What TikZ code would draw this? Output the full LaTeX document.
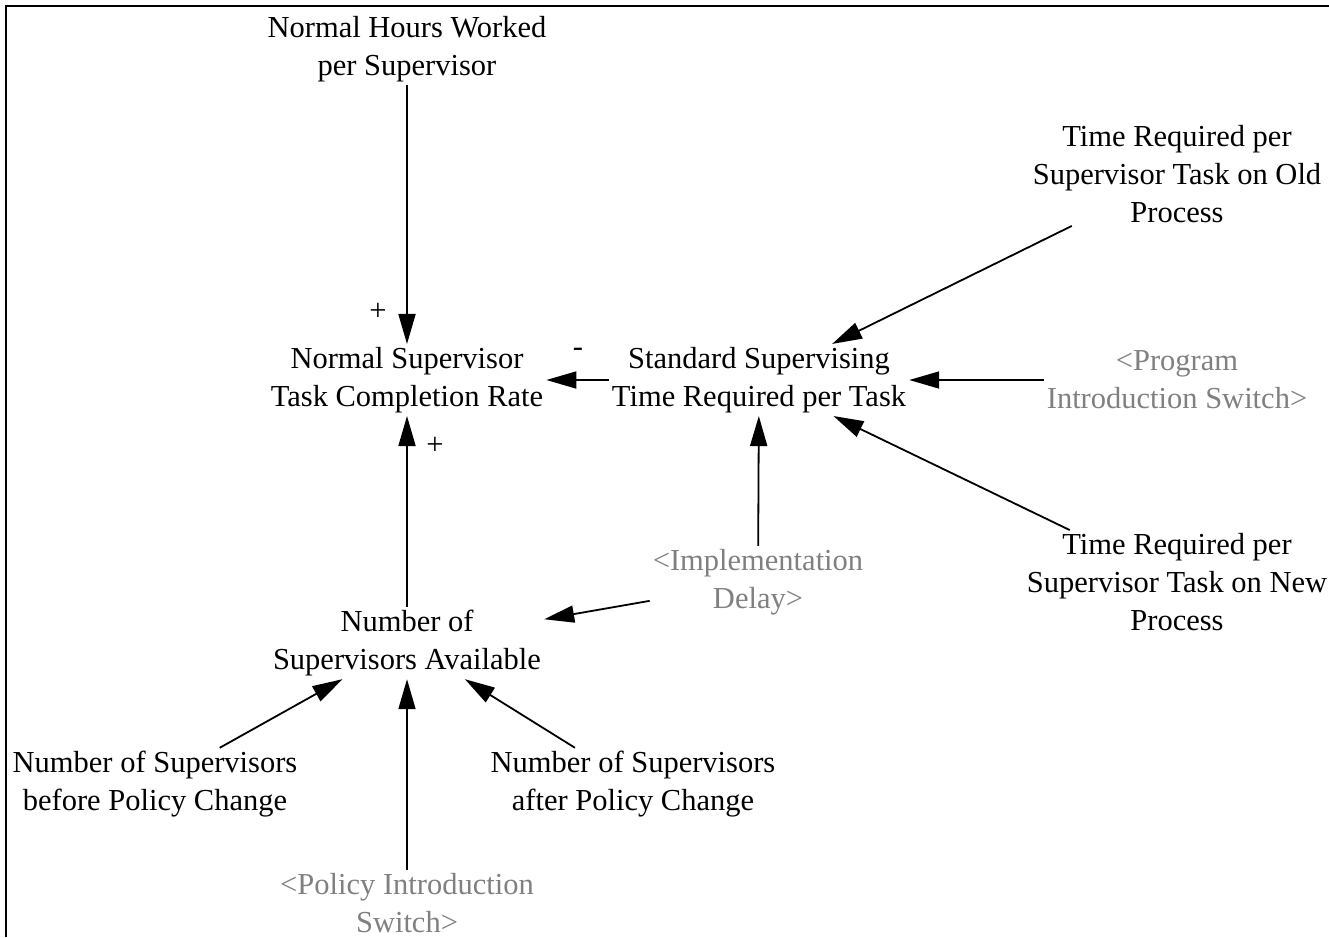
\documentclass[tikz,border=0pt]{standalone}
\usepackage{fontspec}
\setmainfont{Liberation Serif}
\usepackage{tikz}
\usetikzlibrary{positioning}
\usetikzlibrary{arrows.meta}

\tikzset{
  var/.style={align=center, inner sep=3pt},
  shadowvar/.style={var, text=black!50},
  link/.style={line width=1.8pt, -{Triangle[length=30pt,width=17pt]}},
  sign/.style={inner sep=0pt}
}

\begin{document}
\begin{tikzpicture}[x=1pt, y=-1pt, font=\fontsize{30.5}{38}\selectfont]
  \useasboundingbox (0,0) rectangle (1329,937);
  % Frame
  \draw [line width=2.8pt] (6,937) -- (6,6) -- (1329,6);

  % Nodes
  \node [var] (hours) at (407,49) {Normal Hours Worked\\per Supervisor};
  \node [var] (rate) at (407,380) {Normal Supervisor\\Task Completion Rate};
  \node [var] (stdtime) at (759,380) {Standard Supervising\\Time Required per Task};
  \node [var] (oldtime) at (1177,174) {Time Required per\\Supervisor Task on Old\\Process};
  \node [shadowvar] (progswitch) at (1177,380) {<Program\\Introduction Switch>};
  \node [var] (newtime) at (1177,582) {Time Required per\\Supervisor Task on New\\Process};
  \node [shadowvar] (delay) at (758,582) {<Implementation\\Delay>};
  \node [var] (available) at (407,643) {Number of\\Supervisors Available};
  \node [var] (before) at (155,784) {Number of Supervisors\\before Policy Change};
  \node [var] (after) at (633,784) {Number of Supervisors\\after Policy Change};
  \node [shadowvar] (polswitch) at (407,903) {<Policy Introduction\\Switch>};

  % Arrows
  \foreach \src/\dst in {hours/rate, stdtime/rate, available/rate,
      oldtime/stdtime, progswitch/stdtime, newtime/stdtime, delay/stdtime,
      delay/available, before/available, polswitch/available, after/available}
    \draw [link] (\src) -- (\dst);

  % Polarities
  \node [sign] (p1) at (378,312) {+};
  \node [sign] (p2) at (435,446) {+};
  \node [sign] (m1) at (578,352) {-};
\end{tikzpicture}
\end{document}
